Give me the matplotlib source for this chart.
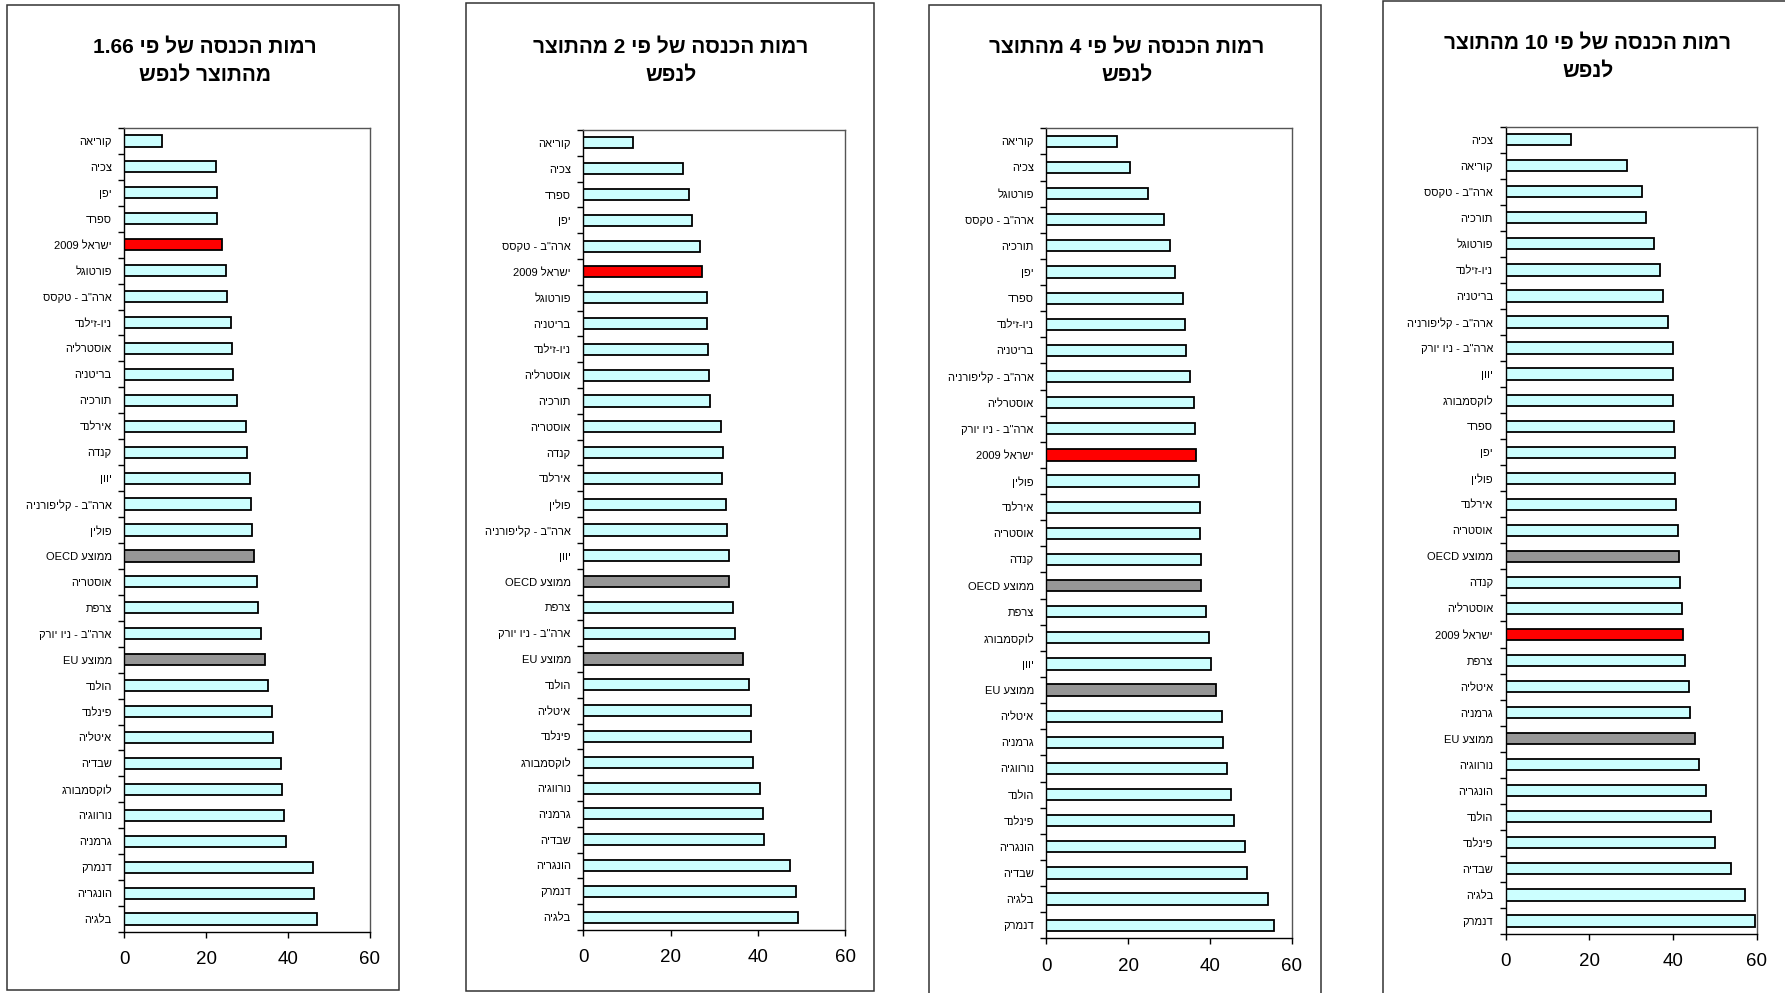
import re
import numpy as np
import matplotlib
matplotlib.use('Agg')
import matplotlib.pyplot as plt
from matplotlib.patches import Rectangle

plt.rcParams['font.family'] = ['Liberation Sans', 'DejaVu Sans']

# income level needed at 1.66x GDP per capita
labels_166 = ['קוריאה', 'צכיה', 'יפן', 'ספרד', 'ישראל 2009', 'פורטוגל', 'ארה"ב - טקסס',
              'ניו-זילנד', 'אוסטרליה', 'בריטניה', 'תורכיה', 'אירלנד', 'קנדה', 'יוון',
              'ארה"ב - קליפורניה', 'פולין', 'ממוצע OECD', 'אוסטריה', 'צרפת', 'ארה"ב - ניו יורק',
              'ממוצע EU', 'הולנד', 'פינלנד', 'איטליה', 'שבדיה', 'לוקסמבורג', 'נורווגיה',
              'גרמניה', 'דנמרק', 'הונגריה', 'בלגיה']
values_166 = [9.3, 22.4, 22.7, 22.7, 23.9, 24.8, 25.2, 26.0, 26.3, 26.6, 27.4, 29.6, 30.0, 30.7,
              30.9, 31.3, 31.7, 32.3, 32.6, 33.4, 34.4, 35.2, 36.1, 36.2, 38.2, 38.4, 39.1,
              39.5, 46.0, 46.3, 47.0]

labels_2 = ['קוריאה', 'צכיה', 'ספרד', 'יפן', 'ארה"ב - טקסס', 'ישראל 2009', 'פורטוגל',
            'בריטניה', 'ניו-זילנד', 'אוסטרליה', 'תורכיה', 'אוסטריה', 'קנדה', 'אירלנד',
            'פולין', 'ארה"ב - קליפורניה', 'יוון', 'ממוצע OECD', 'צרפת', 'ארה"ב - ניו יורק',
            'ממוצע EU', 'הולנד', 'איטליה', 'פינלנד', 'לוקסמבורג', 'נורווגיה', 'גרמניה',
            'שבדיה', 'הונגריה', 'דנמרק', 'בלגיה']
values_2 = [11.4, 22.8, 24.3, 25.0, 26.8, 27.1, 28.4, 28.4, 28.6, 28.9, 29.1, 31.5, 32.0, 31.9,
            32.7, 33.0, 33.5, 33.5, 34.3, 34.8, 36.5, 38.0, 38.4, 38.5, 38.8, 40.6, 41.2,
            41.4, 47.5, 48.8, 49.2]

labels_4 = ['קוריאה', 'צכיה', 'פורטוגל', 'ארה"ב - טקסס', 'תורכיה', 'יפן', 'ספרד',
            'ניו-זילנד', 'בריטניה', 'ארה"ב - קליפורניה', 'אוסטרליה', 'ארה"ב - ניו יורק',
            'ישראל 2009', 'פולין', 'אירלנד', 'אוסטריה', 'קנדה', 'ממוצע OECD', 'צרפת',
            'לוקסמבורג', 'יוון', 'ממוצע EU', 'איטליה', 'גרמניה', 'נורווגיה', 'הולנד',
            'פינלנד', 'הונגריה', 'שבדיה', 'בלגיה', 'דנמרק']
values_4 = [17.3, 20.4, 25.0, 28.9, 30.3, 31.4, 33.4, 34.0, 34.3, 35.1, 36.2, 36.5,
            36.7, 37.3, 37.5, 37.7, 37.8, 37.9, 39.0, 39.7, 40.2, 41.5, 43.1, 43.2, 44.2,
            45.1, 46.0, 48.5, 49.2, 54.3, 55.7]

labels_10 = ['צכיה', 'קוריאה', 'ארה"ב - טקסס', 'תורכיה', 'פורטוגל', 'ניו-זילנד', 'בריטניה',
             'ארה"ב - קליפורניה', 'ארה"ב - ניו יורק', 'יוון', 'לוקסמבורג', 'ספרד', 'יפן',
             'פולין', 'אירלנד', 'אוסטריה', 'ממוצע OECD', 'קנדה', 'אוסטרליה', 'ישראל 2009',
             'צרפת', 'איטליה', 'גרמניה', 'ממוצע EU', 'נורווגיה', 'הונגריה', 'הולנד',
             'פינלנד', 'שבדיה', 'בלגיה', 'דנמרק']
values_10 = [15.6, 29.0, 32.7, 33.5, 35.6, 37.0, 37.7, 38.8, 40.0, 40.0, 40.1, 40.3, 40.4,
             40.5, 40.8, 41.3, 41.5, 41.7, 42.3, 42.5, 43.0, 43.9, 44.2, 45.2, 46.3, 47.9,
             49.2, 50.0, 53.9, 57.2, 59.7]

titles = [('רמות הכנסה של פי 1.66', 'מהתוצר לנפש'),
          ('רמות הכנסה של פי 2 מהתוצר', 'לנפש'),
          ('רמות הכנסה של פי 4 מהתוצר', 'לנפש'),
          ('רמות הכנסה של פי 10 מהתוצר', 'לנפש')]

W, H = 1785, 993


def visual(s):
    # matplotlib has no bidi support: flip the string, keep latin/number runs readable
    r = s[::-1]
    return re.sub(r'[A-Za-z0-9.]+', lambda m: m.group(0)[::-1], r)


def bar_color(label):
    if label.startswith('ישראל'):
        return '#ff0000'
    if label.startswith('ממוצע'):
        return '#969696'
    return '#ccffff'


# pixel layout: outer frame, plot area, title centre
panels = [
    dict(frame=(7, 5, 399, 990), ax=(124.3, 128, 370, 932), tx=205, ty=61),
    dict(frame=(466, 3, 874, 991), ax=(583.3, 130, 845, 930), tx=671, ty=61),
    dict(frame=(929, 5, 1321, 1005), ax=(1046.3, 128.3, 1291.5, 938.3), tx=1127, ty=61),
    dict(frame=(1383, 1, 1800, 1005), ax=(1505.5, 126.7, 1756.5, 934), tx=1588, ty=57),
]
data = [(labels_166, values_166), (labels_2, values_2), (labels_4, values_4), (labels_10, values_10)]

fig = plt.figure(figsize=(W / 100, H / 100), dpi=100)
fig.patch.set_facecolor('white')

for p, (labels, values), (t1, t2) in zip(panels, data, titles):
    x0, y0, x1, y1 = p['frame']
    fig.patches.append(Rectangle((x0 / W, 1 - y1 / H), (x1 - x0) / W, (y1 - y0) / H,
                                 transform=fig.transFigure, fill=False,
                                 edgecolor='#333333', linewidth=1.1))

    l, t, r, b = p['ax']
    ax = fig.add_axes([l / W, 1 - b / H, (r - l) / W, (b - t) / H])
    n = len(labels)
    y = np.arange(n)
    ax.barh(y, values, height=0.43, color=[bar_color(s) for s in labels],
            edgecolor='black', linewidth=1.3)
    ax.set_xlim(0, 60)
    ax.set_ylim(n - 0.5, -0.5)
    ax.set_xticks([0, 20, 40, 60])
    ax.tick_params(axis='x', labelsize=13.5, length=4, width=1, pad=10, colors='black')
    ax.set_yticks(y)
    ax.set_yticklabels([visual(s) for s in labels], fontsize=8.0)
    ax.set_yticks(np.arange(-0.5, n, 1), minor=True)
    ax.tick_params(axis='y', which='major', length=0, pad=9)
    ax.tick_params(axis='y', which='minor', length=4, width=1)
    for side in ['top', 'right']:
        ax.spines[side].set_color('#555555')
        ax.spines[side].set_linewidth(1)
    for side in ['left', 'bottom']:
        ax.spines[side].set_color('black')
        ax.spines[side].set_linewidth(1)

    fig.text(p['tx'] / W, 1 - p['ty'] / H, visual(t1) + '\n' + visual(t2),
             ha='center', va='center', fontsize=15, fontweight='bold',
             linespacing=1.6)

fig.savefig('out.png', dpi=100)
